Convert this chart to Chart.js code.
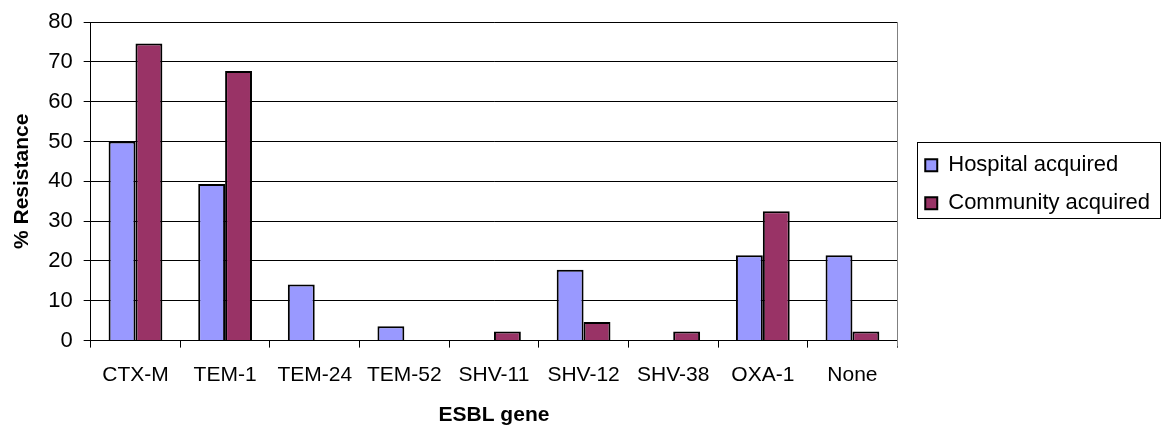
<!DOCTYPE html>
<html>
<head>
<meta charset="utf-8">
<script src="https://cdn.jsdelivr.net/npm/chart.js@4"></script>
<style>
  html, body { margin: 0; padding: 0; background: #fff; }
</style>
</head>
<body>
<canvas id="chart" width="1169" height="430"></canvas>
<script>
// ── Data ─────────────────────────────────────────────────────────────────────
const genes = ['CTX-M', 'TEM-1', 'TEM-24', 'TEM-52', 'SHV-11', 'SHV-12', 'SHV-38', 'OXA-1', 'None'];
const hospital = [50, 39.3, 14.1, 3.6, 0, 17.8, 0, 21.4, 21.4];
const community = [74.6, 67.7, 0, 0, 2.3, 4.7, 2.3, 32.5, 2.3];
const yTicks = [0, 10, 20, 30, 40, 50, 60, 70, 80];

const FONT = "'Liberation Sans', Arial, sans-serif";

// Plot frame (right edge) + box around the legend, Excel style
const framePlugin = {
  id: 'frame',
  afterLayout(chart) {
    // push the legend a bit away from the plot
    const lg = chart.legend;
    lg.left += 12;
    lg.right += 12;
    lg.top += 3;
    lg.bottom += 3;
  },
  afterDraw(chart) {
    const { ctx, chartArea: a, legend } = chart;
    ctx.save();
    ctx.strokeStyle = '#808080';
    ctx.lineWidth = 1;
    ctx.beginPath();
    ctx.moveTo(Math.round(a.right) + 0.5, a.top);
    ctx.lineTo(Math.round(a.right) + 0.5, a.bottom + 6);
    ctx.stroke();
    const hb = legend.legendHitBoxes;
    if (hb && hb.length) {
      const x0 = Math.min(...hb.map(b => b.left)) - 8;
      const x1 = Math.max(...hb.map(b => b.left + b.width)) + 10;
      const y0 = Math.min(...hb.map(b => b.top)) - 12;
      const y1 = Math.max(...hb.map(b => b.top + b.height)) + 4;
      ctx.strokeStyle = '#000';
      ctx.strokeRect(Math.round(x0) + 0.5, Math.round(y0) + 0.5, Math.round(x1 - x0), Math.round(y1 - y0));
    }
    ctx.restore();
  }
};

new Chart(document.getElementById('chart').getContext('2d'), {
  type: 'bar',
  data: {
    labels: genes,
    datasets: [
      {
        label: 'Hospital acquired',
        data: hospital,
        backgroundColor: '#9999ff',
        borderColor: '#000',
        borderWidth: 2
      },
      {
        label: 'Community acquired',
        data: community,
        backgroundColor: '#993366',
        borderColor: '#000',
        borderWidth: 2
      }
    ]
  },
  options: {
    responsive: false,
    animation: false,
    devicePixelRatio: 1,
    layout: { padding: { top: 8, right: 21, left: 6, bottom: 0 } },
    datasets: { bar: { categoryPercentage: 0.6, barPercentage: 1 } },
    plugins: {
      tooltip: { enabled: false },
      legend: {
        position: 'right',
        fullSize: false,
        labels: {
          boxWidth: 12,
          boxHeight: 12,
          padding: 16,
          color: '#000',
          font: { family: FONT, size: 22 }
        }
      }
    },
    scales: {
      x: {
        offset: true,
        grid: { display: true, drawOnChartArea: false, offset: true, color: '#000', tickLength: 7 },
        border: { color: '#000' },
        ticks: { color: '#000', font: { family: FONT, size: 21 }, padding: 15, maxRotation: 0, autoSkip: false },
        title: { display: true, text: 'ESBL gene', color: '#000', font: { family: FONT, size: 21, weight: 'bold' }, padding: { top: 0, bottom: 2 } }
      },
      y: {
        min: 0,
        max: 80,
        afterBuildTicks: axis => { axis.ticks = yTicks.map(v => ({ value: v })); },
        grid: { color: '#000', tickLength: 7 },
        border: { color: '#000' },
        ticks: { color: '#000', font: { family: FONT, size: 22, lineHeight: 1 }, padding: 11 },
        title: { display: true, text: '% Resistance', color: '#000', font: { family: FONT, size: 21, weight: 'bold' }, padding: { top: 4, bottom: 2 } }
      }
    }
  },
  plugins: [framePlugin]
});
</script>
</body>
</html>
